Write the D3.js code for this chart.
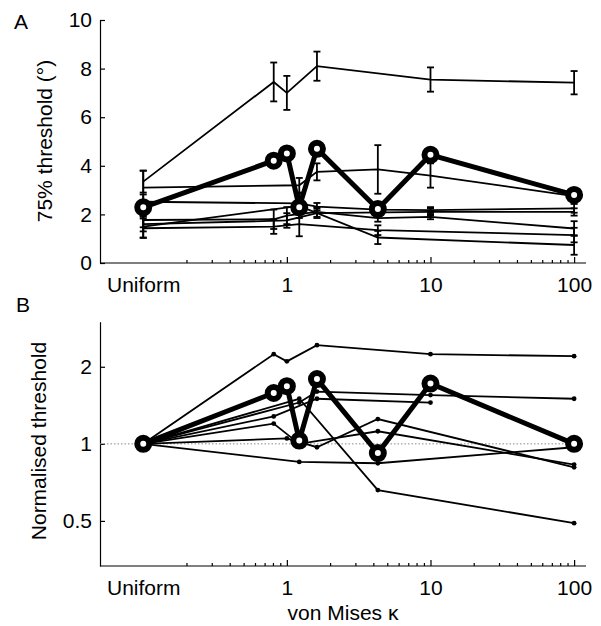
<!DOCTYPE html>
<html lang="en">
<head>
<meta charset="UTF-8" />
<title>Thresholds vs von Mises kappa</title>
<script src="https://d3js.org/d3.v7.min.js"></script>
<style>
  body { margin: 0; background: #ffffff; }
  svg text { font-family: "Liberation Sans", Arial, sans-serif; font-size: 21px; fill: #000; }
</style>
</head>
<body>
<svg id="chart" width="601" height="626"></svg>
<script>
// conditions (uniform is drawn at kappa = 0.1)
const kappa = [0.1, 0.81, 1, 1.22, 1.62, 4.3, 10, 100];
const xTickValues = [0.1, 1, 10, 100];
const xTickLabels = ["Uniform", "1", "10", "100"];
const minorTicks = [0.2, 0.3, 0.4, 0.5, 0.6, 0.7, 0.8, 0.9, 2, 3, 4, 5, 6, 7, 8, 9, 20, 30, 40, 50, 60, 70, 80, 90];

// panel A: 75% thresholds (deg), one array per observer, null = not tested
const threshS1 = [3.35, 7.45, 7.0, null, 8.1, null, 7.55, 7.42];
const errS1    = [0.45, 0.8, 0.7, null, 0.6, null, 0.5, 0.48];
const threshS2 = [3.1, null, null, 3.2, 3.75, 3.85, 3.6, 2.75];
const errS2    = [0.7, null, null, 0.3, 0.35, 1.0, 0.5, 0.15];
const threshS3 = [2.52, null, null, 2.45, 2.32, 2.2, 2.18, 2.25];
const errS3    = [0.3, null, null, 0.3, 0.15, 0.2, 0.12, 0.18];
const threshS4 = [1.77, 1.8, 1.95, null, 2.1, 1.85, 1.9, 1.42];
const errS4    = [0.3, 0.4, 0.35, null, 0.2, 0.15, 0.1, 0.3];
const threshS5 = [1.5, null, null, 2.35, null, 1.05, null, 0.74];
const errS5    = [0.45, null, null, 0.5, null, 0.27, null, 0.4];
const threshS6 = [1.6, null, 1.75, null, 2.05, null, 2.1, 2.1];
const errS6    = [0.3, null, 0.3, null, 0.2, null, 0.15, 0.15];
const threshS7 = [1.43, 1.5, null, 1.6, null, 1.35, null, 1.15];
const errS7    = [0.4, 0.3, null, 0.5, null, 0.2, null, 0.3];
const threshMean = [2.29, 4.21, 4.51, 2.29, 4.7, 2.22, 4.45, 2.8];

// panel B: thresholds normalised to the uniform condition
const normS1 = [1, 2.24, 2.1, null, 2.43, null, 2.24, 2.2];
const normS2 = [1, null, null, 1.45, 1.6, null, 1.55, 1.5];
const normS3 = [1, 1.28, null, null, 1.5, null, 1.45, null];
const normS4 = [1, null, null, 0.85, null, 0.84, null, 0.97];
const normS5 = [1, null, null, 1.5, null, 0.66, null, 0.49];
const normS6 = [1, 1.2, null, 1.0, null, 1.12, null, 0.83];
const normS7 = [1, null, 1.05, null, 0.97, 1.25, null, 0.81];
const normMean = [1, 1.58, 1.68, 1.03, 1.79, 0.92, 1.72, 1.0];

const threshYTicks = [0, 2, 4, 6, 8, 10];
const normYTicks = [0.5, 1, 2];

const svg = d3.select("#chart");

const x = d3.scaleLog().domain([0.05, 121]).range([100, 586]);
const yA = d3.scaleLinear().domain([0, 10]).range([263, 20]);
const yB = d3.scaleLog().domain([1 / 3, 3]).range([566, 321.7]);

function toPoints(vals, errs) {
  return kappa.map((k, i) => ({ k, v: vals[i], e: errs ? errs[i] : null }))
    .filter(d => d.v != null);
}

function drawXAxis(yPos) {
  const major = d3.axisBottom(x)
    .tickValues(xTickValues)
    .tickFormat((d, i) => xTickLabels[i])
    .tickSizeInner(-6)
    .tickSizeOuter(0)
    .tickPadding(14);
  const ax = svg.append("g").attr("transform", `translate(0,${yPos})`).call(major);
  ax.selectAll(".tick").filter(d => d === 0.1).select("line").remove();
  ax.select(".domain").attr("d", `M100,0H586`);

  const minor = d3.axisBottom(x).tickValues(minorTicks).tickFormat("").tickSizeInner(-3).tickSizeOuter(0);
  const mx = svg.append("g").attr("transform", `translate(0,${yPos})`).call(minor);
  mx.select(".domain").remove();
  svg.selectAll(".domain, .tick line").attr("stroke", "#000").attr("stroke-width", 1.2);
  svg.selectAll(".tick text").style("font-size", "21px").attr("fill", "#000");
}

function drawYAxis(scale, ticks, fmt) {
  const ax = svg.append("g").attr("transform", "translate(100,0)")
    .call(d3.axisLeft(scale).tickValues(ticks).tickFormat(fmt).tickSizeInner(-5).tickSizeOuter(0).tickPadding(8));
  ax.selectAll(".domain, .tick line").attr("stroke", "#000").attr("stroke-width", 1.2);
  ax.selectAll(".tick text").style("font-size", "21px").attr("fill", "#000");
}

// ---------- panel A ----------
drawYAxis(yA, threshYTicks, d3.format("d"));
drawXAxis(263);

const lineA = d3.line().x(d => x(d.k)).y(d => yA(d.v));
const subjectsA = [
  [threshS1, errS1], [threshS2, errS2], [threshS3, errS3], [threshS4, errS4],
  [threshS5, errS5], [threshS6, errS6], [threshS7, errS7]
];

subjectsA.forEach(([vals, errs]) => {
  const pts = toPoints(vals, errs);
  svg.append("path").datum(pts)
    .attr("fill", "none").attr("stroke", "#000").attr("stroke-width", 1.8)
    .attr("d", lineA);
  const eb = svg.append("g");
  pts.forEach(d => {
    const cx = x(d.k), y0 = yA(d.v - d.e), y1 = yA(d.v + d.e);
    eb.append("line").attr("x1", cx).attr("x2", cx).attr("y1", y0).attr("y2", y1)
      .attr("stroke", "#000").attr("stroke-width", 1.8);
    [y0, y1].forEach(yy => eb.append("line")
      .attr("x1", cx - 3.5).attr("x2", cx + 3.5).attr("y1", yy).attr("y2", yy)
      .attr("stroke", "#000").attr("stroke-width", 1.8));
  });
});

const meanA = toPoints(threshMean);
svg.append("path").datum(meanA)
  .attr("fill", "none").attr("stroke", "#000").attr("stroke-width", 5)
  .attr("stroke-linejoin", "round").attr("d", lineA);
svg.append("g").selectAll("circle").data(meanA).join("circle")
  .attr("cx", d => x(d.k)).attr("cy", d => yA(d.v)).attr("r", 6)
  .attr("fill", "#fff").attr("stroke", "#000").attr("stroke-width", 6);

// ---------- panel B ----------
drawYAxis(yB, normYTicks, d => String(d));
drawXAxis(566);

svg.append("line")
  .attr("x1", 100).attr("x2", x(100)).attr("y1", yB(1)).attr("y2", yB(1))
  .attr("stroke", "#888").attr("stroke-width", 1).attr("stroke-dasharray", "1.5,2");

const lineB = d3.line().x(d => x(d.k)).y(d => yB(d.v));
[normS1, normS2, normS3, normS4, normS5, normS6, normS7].forEach(vals => {
  const pts = toPoints(vals);
  svg.append("path").datum(pts)
    .attr("fill", "none").attr("stroke", "#000").attr("stroke-width", 1.8)
    .attr("d", lineB);
  svg.append("g").selectAll("circle").data(pts).join("circle")
    .attr("cx", d => x(d.k)).attr("cy", d => yB(d.v)).attr("r", 2.4).attr("fill", "#000");
});

const meanB = toPoints(normMean);
svg.append("path").datum(meanB)
  .attr("fill", "none").attr("stroke", "#000").attr("stroke-width", 5)
  .attr("stroke-linejoin", "round").attr("d", lineB);
svg.append("g").selectAll("circle").data(meanB).join("circle")
  .attr("cx", d => x(d.k)).attr("cy", d => yB(d.v)).attr("r", 6)
  .attr("fill", "#fff").attr("stroke", "#000").attr("stroke-width", 6);

// ---------- labels ----------
svg.append("text").attr("x", 14).attr("y", 29).text("A");
svg.append("text").attr("x", 16).attr("y", 312).text("B");
svg.append("text").attr("transform", "translate(52,141) rotate(-90)")
  .attr("text-anchor", "middle").text("75% threshold (°)");
svg.append("text").attr("transform", "translate(46,441) rotate(-90)")
  .attr("text-anchor", "middle").text("Normalised threshold");
svg.append("text").attr("x", 343).attr("y", 620)
  .attr("text-anchor", "middle").text("von Mises κ");
</script>
</body>
</html>
